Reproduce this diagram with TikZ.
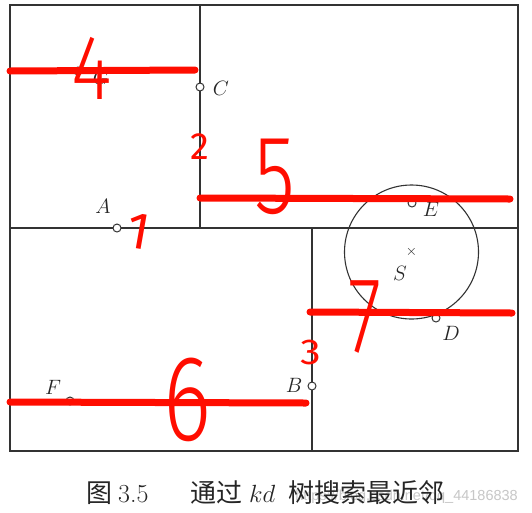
\documentclass[tikz,border=0pt]{standalone}
\usepackage{fontspec}
\newfontfamily\cjkfont{Noto Sans CJK SC}
\newfontfamily\handfont{Fira Sans Light}
\newfontfamily\handfontb{Fira Sans}
\newfontfamily\wmfont{Liberation Sans}
\begin{document}
\begin{tikzpicture}[x=1pt,y=-1pt,
  frame/.style={draw=black!80, line width=1.3pt},
  ptmark/.style={circle, draw=black!80, line width=1pt, minimum size=8pt, inner sep=0pt, fill=white},
  lbl/.style={font=\fontsize{22}{24}\selectfont, inner sep=0pt, text=black!85},
  redline/.style={draw=red!90!orange, line width=7pt, line cap=round},
  digit/.style={text=red!90!orange, inner sep=0pt, font=\handfont\fontsize{#1}{#1}\selectfont},
  digitb/.style={text=red!90!orange, inner sep=0pt, font=\handfontb\fontsize{#1}{#1}\selectfont},
  captext/.style={anchor=base west, inner sep=0pt, font=\fontsize{26}{30}\selectfont, text=black!85},
]
\useasboundingbox (0,0) rectangle (532,512);
\fill[white] (0,0) rectangle (532,512);

% partition frame
\coordinate (tl) at (10,5);
\coordinate (br) at (518,451);
\coordinate (v1t) at (200,5);
\coordinate (v1b) at (200,228);
\coordinate (hl) at (10,228);
\coordinate (hr) at (518,228);
\coordinate (v2t) at (312,228);
\coordinate (v2b) at (312,451);
\draw[frame] (tl) rectangle (br);
\draw[frame] (v1t) -- (v1b);
\draw[frame] (hl) -- (hr);
\draw[frame] (v2t) -- (v2b);

% search circle
\node[circle, draw=black!80, line width=1.1pt, minimum size=134pt, inner sep=0pt] (circ) at (411.5,252) {};
\node[inner sep=0pt, font=\fontsize{14}{14}\selectfont, text=black!85] (S) at (411.5,252) {$\times$};

% points
\node[ptmark] (G) at (78,71) {};
\node[ptmark] (C) at (200,87) {};
\node[ptmark] (A) at (117,228) {};
\node[ptmark] (E) at (412,203) {};
\node[ptmark] (D) at (436,318) {};
\node[ptmark] (B) at (312,386) {};
\node[ptmark] (F) at (70,401) {};

% labels
\node[lbl] (Gl) at (101,77) {$G$};
\node[lbl] (Cl) at (221,88) {$C$};
\node[lbl] (Al) at (103,206) {$A$};
\node[lbl] (El) at (431,209) {$E$};
\node[lbl] (Sl) at (400,273) {$S$};
\node[lbl] (Dl) at (451,333) {$D$};
\node[lbl] (Bl) at (294,385) {$B$};
\node[lbl] (Fl) at (53,387) {$F$};

% red annotation lines
\coordinate (r4a) at (10,71);
\coordinate (r4b) at (195,70);
\coordinate (r5a) at (200,198);
\coordinate (r5b) at (510,199);
\coordinate (r7a) at (310,312);
\coordinate (r7b) at (512,313);
\coordinate (r6a) at (10,402);
\coordinate (r6b) at (306,403);
\draw[redline] (r4a) -- (r4b);
\draw[redline] (r5a) -- (r5b);
\draw[redline] (r7a) -- (r7b);
\draw[redline] (r6a) -- (r6b);

% handwritten numbers
\node[digit=92, xscale=0.85] (n4) at (92,68) {4};
\node[digitb=38] (n2) at (200,147) {2};
\node[digit=112, xscale=0.75] (n5) at (275,177) {5};
\node[digitb=52, rotate=-10] (n1) at (139,231) {1};
\node[digitb=36, xscale=1.15] (n3) at (311,352) {3};
\node[digit=108, xscale=0.7] (n7) at (365,317) {7};
\node[digit=122, xscale=0.75] (n6) at (187,400) {6};

% caption
\node[anchor=base east, inner sep=0pt, text=black!22, font=\wmfont\fontsize{14.5}{16}\selectfont] (wm) at (518,500) {https://blog.csdn.net/qq\_44186838};
\node[captext, font=\cjkfont\fontsize{26}{30}\selectfont] (fig) at (86,502) {图};
\node[captext] (num) at (118,502) {3.5};
\node[captext, font=\cjkfont\fontsize{26}{30}\selectfont] (t1) at (190,502) {通过};
\node[captext] (kd) at (249,502) {$kd$};
\node[captext, font=\cjkfont\fontsize{26}{30}\selectfont] (t2) at (288,502) {树搜索最近邻};
\end{tikzpicture}
\end{document}
